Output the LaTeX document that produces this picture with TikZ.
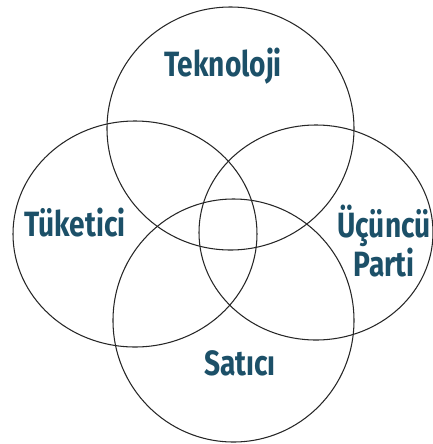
\documentclass[tikz,border=0pt]{standalone}
\usepackage{fontspec}
\newfontfamily\labelfont[FakeStretch=0.8]{Fira Sans}
\definecolor{labelblue}{RGB}{28,80,104}
\tikzset{
  ring/.style={draw=black!85,line width=0.6pt},
  lbl/.style={text=labelblue,font=\labelfont\bfseries\fontsize{20}{21}\selectfont,inner sep=0pt,align=center}
}
\begin{document}
\begin{tikzpicture}[x=0.02cm,y=-0.02cm]
  \useasboundingbox (0,0) rectangle (433,444);
  \draw[ring] (230.5,128.5) ellipse [x radius=123.5,y radius=121.5];
  \draw[ring] (135,234) ellipse [x radius=122,y radius=113];
  \draw[ring] (316,232.5) ellipse [x radius=117,y radius=107.5];
  \draw[ring] (233.5,320.5) ellipse [x radius=120.5,y radius=121.5];
  \node[lbl] (tek) at (223,66) {Teknoloji};
  \node[lbl] (tuk) at (75,223) {Tüketici};
  \node[lbl] (ucu) at (384,241) {Üçüncü\\Parti};
  \node[lbl] (sat) at (240,363) {Satıcı};
\end{tikzpicture}
\end{document}
